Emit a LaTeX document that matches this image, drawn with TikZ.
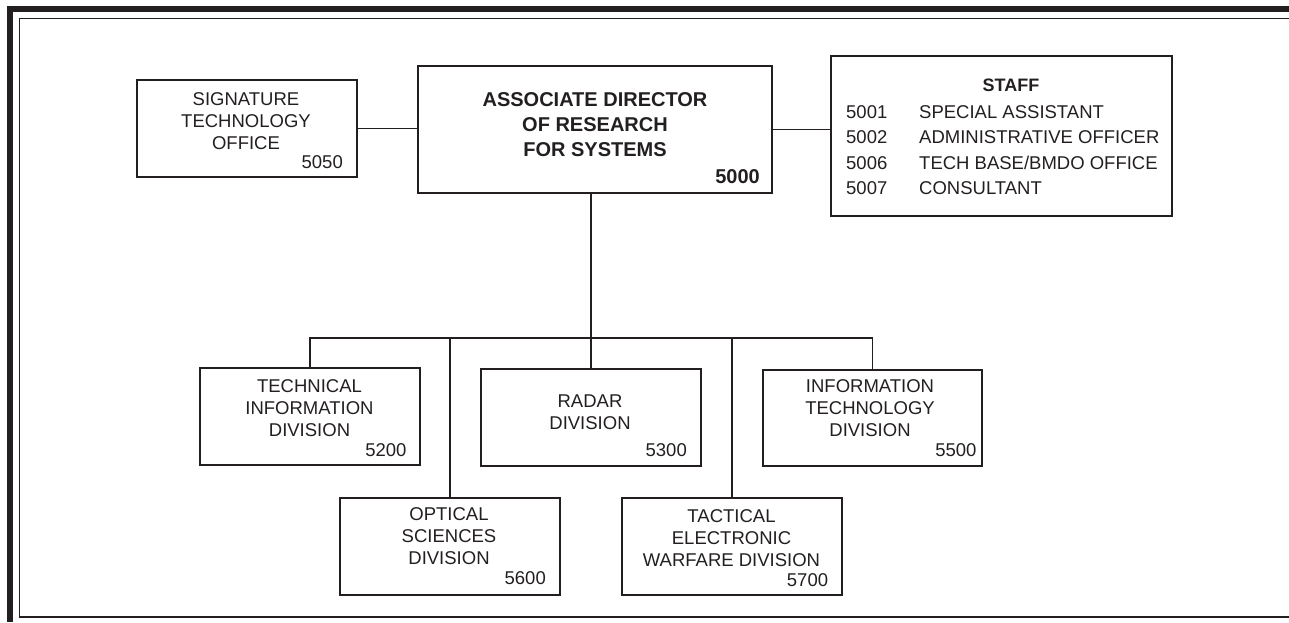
\documentclass[tikz,border=0pt]{standalone}
\usepackage{fontspec}
\setmainfont{Liberation Sans}
\definecolor{ink}{HTML}{231F20}
\begin{document}
\begin{tikzpicture}[x=1pt,y=-1pt,
  box/.style={draw=ink,line width=1.6pt,inner sep=0pt,anchor=north west},
  conn/.style={draw=ink,line width=1.4pt},
  lbl/.style={text=ink,inner sep=0pt,align=center,anchor=base,font={\fontsize{18.5}{22}\selectfont}},
  num/.style={text=ink,inner sep=0pt,anchor=base east,font={\fontsize{18.5}{22}\selectfont}},
  boldlbl/.style={text=ink,inner sep=0pt,align=center,anchor=base,font={\fontsize{20}{25}\selectfont\bfseries}},
  stafftxt/.style={text=ink,inner sep=0pt,align=left,anchor=base west,font={\fontsize{18.5}{25.3}\selectfont}}
]
\useasboundingbox (0,0) rectangle (1289,622);
% frame
\fill[ink] (7,6) rectangle (1289,12);
\fill[ink] (7,6) rectangle (13,622);
\draw[ink,line width=1.2pt] (1289,18.5) -- (19.5,18.5) -- (19.5,617) -- (1289,617);

% boxes
\node[box,minimum width=220pt,minimum height=97pt] (sig) at (136,79) {};
\node[box,minimum width=354pt,minimum height=127pt] (dir) at (417,65) {};
\node[box,minimum width=341pt,minimum height=160pt] (staff) at (830,55) {};
\node[box,minimum width=220pt,minimum height=97pt] (tech) at (199,367) {};
\node[box,minimum width=220pt,minimum height=97pt] (radar) at (480,368) {};
\node[box,minimum width=219pt,minimum height=96pt] (infot) at (762,369) {};
\node[box,minimum width=220pt,minimum height=97pt] (optical) at (339,497) {};
\node[box,minimum width=220pt,minimum height=97pt] (tactical) at (621,497) {};

% texts (base anchor = baseline of the last line)
\node[lbl] (sigT) at (246,149) {SIGNATURE\\TECHNOLOGY\\OFFICE};
\node[num] (sigN) at (343,168) {5050};
\node[boldlbl] (dirT) at (595,156.7) {ASSOCIATE DIRECTOR\\OF RESEARCH\\FOR SYSTEMS};
\node[num,font={\fontsize{20}{25}\selectfont\bfseries}] (dirN) at (760,183.3) {5000};
\node[text=ink,inner sep=0pt,anchor=base,font={\fontsize{18}{22}\selectfont\bfseries}] (staffT) at (1011,91.7) {STAFF};
\node[stafftxt] (staffN) at (846,194.3) {5001\\5002\\5006\\5007};
\node[stafftxt] (staffL) at (919,194.3) {SPECIAL ASSISTANT\\ADMINISTRATIVE OFFICER\\TECH BASE/BMDO OFFICE\\CONSULTANT};
\node[lbl] (techT) at (309.5,436.7) {TECHNICAL\\INFORMATION\\DIVISION};
\node[num] (techN) at (406.7,456) {5200};
\node[lbl] (radarT) at (590,429.3) {RADAR\\DIVISION};
\node[num] (radarN) at (687,456) {5300};
\node[lbl] (infotT) at (870,436) {INFORMATION\\TECHNOLOGY\\DIVISION};
\node[num] (infotN) at (976.7,456.7) {5500};
\node[lbl] (opticalT) at (449,564.3) {OPTICAL\\SCIENCES\\DIVISION};
\node[num] (opticalN) at (546,584.3) {5600};
\node[lbl] (tacticalT) at (731.5,566) {TACTICAL\\ELECTRONIC\\WARFARE DIVISION};
\node[num] (tacticalN) at (828.3,586) {5700};

% connectors
\coordinate (bus) at (590,338);
\draw[conn] (sig.east) -- (sig.east -| dir.west);
\draw[conn] (dir.east) -- (dir.east -| staff.west);
\draw[conn] (radar.north |- dir.south) -- (radar.north);
\draw[conn] (tech.north) -- (tech.north |- bus) -- (infot.north |- bus) -- (infot.north);
\draw[conn] (optical.north |- bus) -- (optical.north);
\draw[conn] (tactical.north |- bus) -- (tactical.north);
\end{tikzpicture}
\end{document}
